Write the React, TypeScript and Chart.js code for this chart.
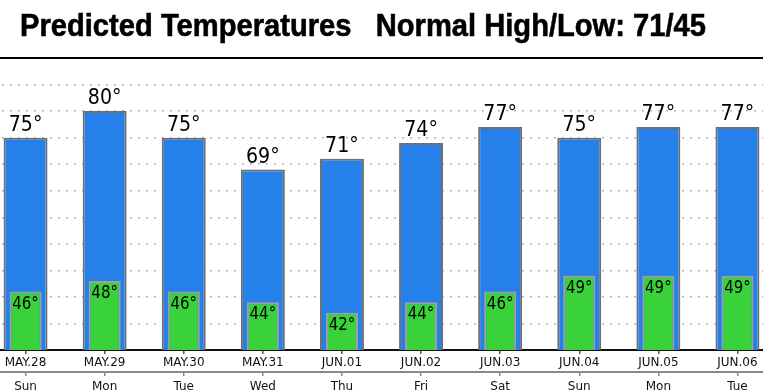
import React, { useEffect, useRef } from "react";
import { Chart, registerables } from "chart.js";

Chart.register(...registerables);

const dates = ["MAY.28", "MAY.29", "MAY.30", "MAY.31", "JUN.01", "JUN.02", "JUN.03", "JUN.04", "JUN.05", "JUN.06"];
const weekdays = ["Sun", "Mon", "Tue", "Wed", "Thu", "Fri", "Sat", "Sun", "Mon", "Tue"];
const highs = [75, 80, 75, 69, 71, 74, 77, 75, 77, 77];
const lows = [46, 48, 46, 44, 42, 44, 46, 49, 49, 49];
const titleText = "Predicted Temperatures   Normal High/Low: 71/45";
const yMin = 35;
const yMax = 90;
const yStep = 5;

const decorPlugin = {
  id: "decor",
  afterDraw(chart: any) {
    const { ctx, chartArea } = chart;
    ctx.save();
    // title (condensed to the reference width)
    ctx.fillStyle = "#000";
    ctx.font = "bold 32px 'Liberation Sans', Arial, sans-serif";
    ctx.textBaseline = "alphabetic";
    ctx.textAlign = "left";
    const w = ctx.measureText(titleText).width;
    const sx = 686 / w;
    ctx.save();
    ctx.translate(34, 36);
    ctx.scale(sx, 1);
    ctx.fillText(titleText, 0, 0);
    ctx.lineWidth = 0.6;
    ctx.strokeStyle = "#000";
    ctx.strokeText(titleText, 0, 0);
    ctx.restore();
    // top rule
    ctx.strokeStyle = "#000";
    ctx.lineWidth = 2;
    ctx.beginPath();
    ctx.moveTo(0, chartArea.top);
    ctx.lineTo(chart.width, chartArea.top);
    ctx.stroke();
    // value labels
    const hiMeta = chart.getDatasetMeta(1);
    const loMeta = chart.getDatasetMeta(0);
    ctx.textAlign = "center";
    ctx.fillStyle = "#000";
    ctx.font = "19px 'DejaVu Sans', sans-serif";
    ctx.textBaseline = "bottom";
    hiMeta.data.forEach((bar: any, i: number) => {
      ctx.save();
      ctx.translate(bar.x, bar.y - 2);
      ctx.scale(1, 1.08);
      ctx.fillText(highs[i] + "°", 0, 0);
      ctx.restore();
    });
    ctx.font = "15px 'DejaVu Sans', sans-serif";
    ctx.textBaseline = "top";
    loMeta.data.forEach((bar: any, i: number) => {
      ctx.save();
      ctx.translate(bar.x, bar.y + 4);
      ctx.scale(1, 1.15);
      ctx.fillText(lows[i] + "°", 0, 0);
      ctx.restore();
    });
    ctx.restore();
  },
};

export default function App() {
  const ref = useRef<HTMLCanvasElement>(null);
  useEffect(() => {
    const chart = new Chart(ref.current!, {
      type: "bar",
      data: {
        labels: dates,
        datasets: [
          {
            label: "Low",
            data: lows,
            backgroundColor: "#3ad23a",
            borderColor: "#a0a0a0",
            borderWidth: 2,
            borderSkipped: "start",
            barPercentage: 0.405,
            categoryPercentage: 1,
            grouped: false,
            order: 1,
          },
          {
            label: "High",
            data: highs,
            backgroundColor: "#2680ea",
            borderColor: "#6e6e6e",
            borderWidth: 2,
            borderSkipped: "start",
            barPercentage: 0.556,
            categoryPercentage: 1,
            grouped: false,
            order: 2,
          },
        ],
      },
      options: {
        animation: false,
        responsive: false,
        maintainAspectRatio: false,
        layout: { padding: { top: 58, left: 0, right: 0, bottom: 0 } },
        plugins: { legend: { display: false }, tooltip: { enabled: false }, title: { display: false } },
        scales: {
          y: {
            min: yMin,
            max: yMax,
            z: 1,
            ticks: { display: false, stepSize: yStep },
            border: { display: false, dash: [2, 6] },
            grid: {
              drawTicks: false,
              lineWidth: 1.5,
              color: (c: any) => (c.tick && (c.tick.value === yMin || c.tick.value === yMax) ? "rgba(0,0,0,0)" : "#b4b4b4"),
            },
            afterFit: (s: any) => {
              s.width = 0;
            },
          },
          x: {
            position: "bottom",
            z: 1,
            grid: { drawOnChartArea: false, drawTicks: true, tickLength: 4, offset: false, color: "#555", lineWidth: 1.5 },
            border: { display: true, color: "#111", width: 2 },
            ticks: { color: "#111", font: { family: "'DejaVu Sans', sans-serif", size: 12 }, padding: 2, maxRotation: 0, autoSkip: false },
            afterFit: (s: any) => {
              s.height = 22;
            },
          },
          x2: {
            type: "category",
            position: "bottom",
            labels: weekdays,
            offset: true,
            grid: { drawOnChartArea: false, drawTicks: true, tickLength: 4, offset: false, color: "#888", lineWidth: 1.5 },
            border: { display: true, color: "#8a8a8a", width: 2 },
            ticks: { color: "#111", font: { family: "'DejaVu Sans', sans-serif", size: 12 }, padding: 4, maxRotation: 0, autoSkip: false },
            afterFit: (s: any) => {
              s.height = 28;
            },
          },
        },
      } as any,
      plugins: [decorPlugin],
    });
    return () => chart.destroy();
  }, []);
  return (
    <div style={{ position: "fixed", left: 0, top: 0, width: 763, height: 392, overflow: "hidden", background: "#fff" }}>
      <div style={{ position: "absolute", left: -14, top: 0, width: 791, height: 400 }}>
        <canvas ref={ref} width={791} height={400} style={{ width: 791, height: 400, display: "block" }} />
      </div>
    </div>
  );
}
